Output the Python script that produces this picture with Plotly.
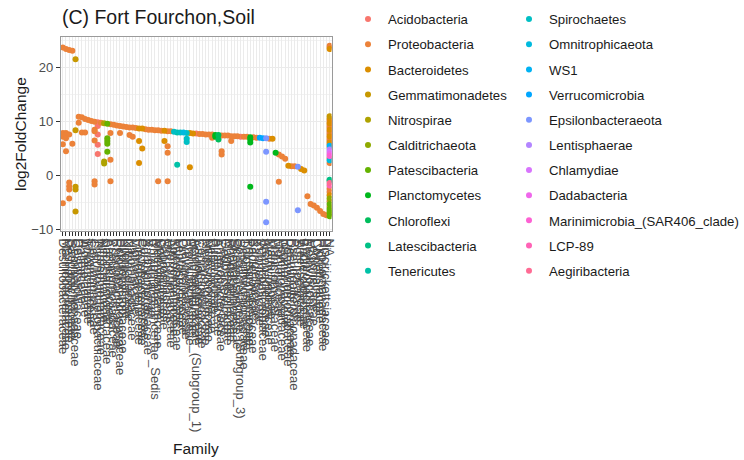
import math
import plotly.graph_objects as go

# Phyla in legend order
phyla = [
    "Acidobacteria", "Proteobacteria", "Bacteroidetes", "Gemmatimonadetes",
    "Nitrospirae", "Calditrichaeota", "Patescibacteria", "Planctomycetes",
    "Chloroflexi", "Latescibacteria", "Tenericutes", "Spirochaetes",
    "Omnitrophicaeota", "WS1", "Verrucomicrobia", "Epsilonbacteraeota",
    "Lentisphaerae", "Chlamydiae", "Dadabacteria",
    "Marinimicrobia_(SAR406_clade)", "LCP-89", "Aegiribacteria",
]

# Families along the x axis (ordered by their largest log2FoldChange)
families = [
    "Desulfobacteraceae", "Marinobacteraceae", "Desulfobulbaceae", "Sandaracinaceae", "Gemmatimonadaceae",
    "Desulfarculaceae", "Halieaceae", "Woeseiaceae", "Thiotrichaceae", "Chromatiaceae",
    "Cellvibrionaceae", "Thermoanaerobaculaceae", "Nitrosomonadaceae", "Nitrospiraceae", "Saccharimonadaceae",
    "Arenicellaceae", "Pseudomonadaceae", "Rhodobacteraceae", "Ectothiorhodospiraceae", "Hyphomicrobiaceae",
    "Kiloniellaceae", "Nitrincolaceae", "Halomonadaceae", "Vibrionaceae", "Flavobacteriaceae",
    "Cyclobacteriaceae", "Burkholderiaceae", "Xanthomonadaceae", "Rhizobiaceae", "Rhizobiales_Incertae_Sedis",
    "Methylophagaceae", "Colwelliaceae", "Saprospiraceae", "Moraxellaceae", "Alteromonadaceae",
    "Spirochaetaceae", "Mycoplasmataceae", "Leptospiraceae", "Omnitrophaceae", "Brevinemataceae",
    "Prolixibacteraceae", "Marinilabiliaceae", "Acidobacteriaceae_(Subgroup_1)", "Caulobacteraceae", "Comamonadaceae",
    "Methyloligellaceae", "Nitrosococcaceae", "Beijerinckiaceae", "Pirellulaceae", "Anaerolineaceae",
    "Enterobacteriaceae", "Geobacteraceae", "Magnetospiraceae", "Rhodospirillaceae", "Shewanellaceae",
    "Oceanospirillaceae", "Solibacteraceae_(Subgroup_3)", "Desulfuromonadaceae", "Thioalkalispiraceae", "Phycisphaeraceae",
    "Bacteriovoracaceae", "Kangiellaceae", "Rubritaleaceae", "Verrucomicrobiaceae", "Arcobacteraceae",
    "Methylomonaceae", "Marinifilaceae", "Planctomycetaceae", "Moritellaceae", "Psychromonadaceae",
    "Idiomarinaceae", "Porphyromonadaceae", "Desulfovibrionaceae", "Pseudoalteromonadaceae", "Sulfurovaceae",
    "Weeksellaceae", "Bacteroidaceae", "Erythrobacteraceae", "Methylococcaceae", "Legionellaceae",
    "Coxiellaceae", "Rickettsiaceae", "Hyphomonadaceae", "Piscirickettsiaceae", "NA",
]

# Phylum of each assigned family (all but the trailing "NA")
family_phylum = [
    "Proteobacteria", "Proteobacteria", "Proteobacteria", "Proteobacteria", "Gemmatimonadetes",
    "Proteobacteria", "Proteobacteria", "Proteobacteria", "Proteobacteria", "Proteobacteria",
    "Proteobacteria", "Acidobacteria", "Proteobacteria", "Nitrospirae", "Patescibacteria",
    "Proteobacteria", "Proteobacteria", "Proteobacteria", "Proteobacteria", "Proteobacteria",
    "Proteobacteria", "Proteobacteria", "Proteobacteria", "Proteobacteria", "Bacteroidetes",
    "Bacteroidetes", "Proteobacteria", "Proteobacteria", "Proteobacteria", "Proteobacteria",
    "Proteobacteria", "Proteobacteria", "Bacteroidetes", "Proteobacteria", "Proteobacteria",
    "Spirochaetes", "Tenericutes", "Spirochaetes", "Omnitrophicaeota", "Spirochaetes",
    "Bacteroidetes", "Bacteroidetes", "Acidobacteria", "Proteobacteria", "Proteobacteria",
    "Proteobacteria", "Proteobacteria", "Proteobacteria", "Planctomycetes", "Chloroflexi",
    "Proteobacteria", "Proteobacteria", "Proteobacteria", "Proteobacteria", "Proteobacteria",
    "Proteobacteria", "Acidobacteria", "Proteobacteria", "Proteobacteria", "Planctomycetes",
    "Proteobacteria", "Proteobacteria", "Verrucomicrobia", "Verrucomicrobia", "Epsilonbacteraeota",
    "Proteobacteria", "Bacteroidetes", "Planctomycetes", "Proteobacteria", "Proteobacteria",
    "Proteobacteria", "Bacteroidetes", "Proteobacteria", "Proteobacteria", "Epsilonbacteraeota",
    "Bacteroidetes", "Bacteroidetes", "Proteobacteria", "Proteobacteria", "Proteobacteria",
    "Proteobacteria", "Proteobacteria", "Proteobacteria", "Proteobacteria",
]

# log2FoldChange of the ASVs in each assigned family
family_lfc = [
    [23.8, 7.9, 7.2, 5.8, -5.2], [23.5, 7.9, 7.5, 6.9, 4.5], [23.3, 7.6, -1.3, -2.0, -2.6, -4.3],
    [23.2, 5.9], [21.6, 8.4, -2.1, -2.6, -6.7], [10.9, 9.8], [10.8, 8.0], [10.5, 8.0], [10.3], [10.1],
    [10.0, 8.5, 8.2, 6.5, -1.1, -1.7], [9.9, 9.2, 7.6, 5.7, 4.0], [9.8], [9.7, 2.6, 2.2],
    [9.6, 6.9, 6.4, 5.9, 4.4], [9.5, 7.9, 2.9, -1.1],
    [9.4], [9.3], [9.2, 7.9], [9.1], [9.0], [8.9, 7.5], [8.9, 7.2], [8.8],
    [8.7, 6.4, 2.3], [8.7, 5.0], [8.6], [8.5], [8.5], [8.4], [8.4, -1.1], [8.3], [8.3, 6.4],
    [8.2, 5.4, 4.2, -1.1], [8.2], [8.1], [8.0, 2.0], [8.0], [8.0], [7.9, 6.8, 6.2],
    [7.9, 1.5], [7.8], [7.8], [7.7], [7.7], [7.6], [7.6], [7.6, 7.0], [7.5, 7.2], [7.5, 6.7],
    [7.4, 4.5, 3.9], [7.4], [7.4], [7.3, 6.4], [7.3], [7.3], [7.2], [7.2], [7.2], [7.1, 6.7, 6.1, -2.1],
    [7.1], [7.0], [7.0], [6.9], [6.9, 4.4, -4.9, -8.7], [6.8], [6.8], [4.2], [3.9, -1.2], [3.5],
    [3.1], [1.8], [1.7], [1.7], [1.6, -6.5], [1.2], [0.9], [-3.9], [-5.3], [-5.6],
    [-6.0], [-6.6], [-7.2], [-7.4],
]

# ASVs without a family assignment
na_lfc = [
    24.1, 23.8, 23.5, 11.0, 10.6, 10.3, 10.0, 9.7, 9.4, 9.1, 8.8, 8.5, 8.2, 7.9, 7.6, 7.3,
    7.0, 6.7, 6.4, 6.1, 5.8, 5.5, 5.2, 4.8, 4.4, 4.0, 3.6, 3.2, 2.8, 2.3,
    -0.8, -1.0, -1.4, -1.9, -2.5, -3.1, -3.7, -4.3, -4.8, -5.3, -5.8, -6.2, -6.6, -7.0, -7.3, -7.6,
]
na_phylum = [
    "Proteobacteria", "Proteobacteria", "Bacteroidetes", "Gemmatimonadetes", "Bacteroidetes",
    "Proteobacteria", "Proteobacteria", "Bacteroidetes", "Proteobacteria", "Proteobacteria",
    "Proteobacteria", "Bacteroidetes", "Proteobacteria", "Proteobacteria", "Proteobacteria",
    "Bacteroidetes", "Proteobacteria", "Proteobacteria", "Proteobacteria", "Bacteroidetes",
    "Proteobacteria", "WS1", "Proteobacteria", "Lentisphaerae", "Chlamydiae",
    "Dadabacteria", "Marinimicrobia_(SAR406_clade)", "Proteobacteria", "Omnitrophicaeota", "Proteobacteria",
    "Latescibacteria", "Chloroflexi", "Aegiribacteria", "LCP-89", "Proteobacteria",
    "Proteobacteria", "Bacteroidetes", "Calditrichaeota", "Proteobacteria", "Patescibacteria",
    "Proteobacteria", "Patescibacteria", "Nitrospirae", "Patescibacteria", "Proteobacteria",
    "Patescibacteria",
]


def hue_palette(n, l=65, c=100, h_start=15, h_end=375):
    """Evenly spaced HCL hues (polar CIE-Luv), converted to sRGB hex."""
    xn, yn, zn = 95.047, 100.0, 108.883
    un = 4 * xn / (xn + 15 * yn + 3 * zn)
    vn = 9 * yn / (xn + 15 * yn + 3 * zn)
    out = []
    for i in range(n):
        h = math.radians(h_start + (h_end - h_start) * i / n)
        u, v = c * math.cos(h), c * math.sin(h)
        y = yn * ((l + 16) / 116) ** 3
        up = u / (13 * l) + un
        vp = v / (13 * l) + vn
        x = y * 9 * up / (4 * vp)
        z = y * (12 - 3 * up - 20 * vp) / (4 * vp)
        x, y, z = x / 100, y / 100, z / 100
        rgb = (
            3.240479 * x - 1.537150 * y - 0.498535 * z,
            -0.969256 * x + 1.875992 * y + 0.041556 * z,
            0.055648 * x - 0.204043 * y + 1.057311 * z,
        )
        chans = []
        for ch in rgb:
            ch = 12.92 * ch if ch <= 0.0031308 else 1.055 * ch ** (1 / 2.4) - 0.055
            chans.append(int(round(min(max(ch, 0.0), 1.0) * 255)))
        out.append("#%02X%02X%02X" % tuple(chans))
    return out


colors = dict(zip(phyla, hue_palette(len(phyla))))

# Collect points per phylum
pts = {p: ([], []) for p in phyla}
for fam, ph, vals in zip(families[:-1], family_phylum, family_lfc):
    for v in vals:
        pts[ph][0].append(fam)
        pts[ph][1].append(v)
for v, ph in zip(na_lfc, na_phylum):
    pts[ph][0].append(families[-1])
    pts[ph][1].append(v)

fig = go.Figure()
for k, ph in enumerate(phyla):
    xs, ys = pts[ph]
    fig.add_trace(go.Scatter(
        x=xs, y=ys, mode="markers", name=ph,
        marker=dict(color=colors[ph], size=6, line=dict(width=0)),
        legend="legend" if k < 11 else "legend2",
        legendgroup=ph,
    ))

all_y = [v for vals in family_lfc for v in vals] + na_lfc
lo, hi = min(all_y), max(all_y)
pad = 0.05 * (hi - lo)

# Page size and panel edges in pixels; the whole page is the paper area
W, H = 744, 460
L, R, T, B = 61, 332, 37, 231


def px(x):
    return x / W


def py(y):
    return 1 - y / H


FONT = "Liberation Sans, Arial, sans-serif"
axis_common = dict(
    showline=True, mirror=True, linecolor="#9A9A9A", linewidth=1,
    ticks="outside", ticklen=4, tickcolor="#333333", tickwidth=1,
    showgrid=True, gridcolor="#EBEBEB", gridwidth=1,
    zeroline=False, automargin=False,
    tickfont=dict(family=FONT, size=13, color="#4D4D4D"),
)

legend_common = dict(
    xanchor="left", yanchor="top",
    font=dict(family=FONT, size=13.2, color="#1A1A1A"),
    bgcolor="rgba(0,0,0,0)", tracegroupgap=5, traceorder="grouped",
)

fig.update_layout(
    width=W, height=H,
    margin=dict(l=0, r=0, t=0, b=0, pad=0),
    plot_bgcolor="white", paper_bgcolor="white",
    font=dict(family=FONT, color="#1A1A1A"),
    title=dict(
        text="(C) Fort Fourchon,Soil", x=px(62), xanchor="left", xref="paper",
        y=py(17), yanchor="middle", yref="paper",
        font=dict(family=FONT, size=19.5, color="#1A1A1A"),
    ),
    xaxis=dict(
        axis_common, domain=[px(L), px(R)],
        type="category", categoryorder="array", categoryarray=families,
        range=[-0.6, len(families) - 1 + 0.6], tickmode="linear", tick0=0, dtick=1,
        tickangle=90,
    ),
    yaxis=dict(
        axis_common, domain=[py(B), py(T)],
        range=[lo - pad, hi + pad], tickmode="array",
        tickvals=[-10, 0, 10, 20],
        minor=dict(tickmode="array", tickvals=[-5, 5, 15, 25], showgrid=True,
                   gridcolor="#F2F2F2", gridwidth=0.6, ticks=""),
    ),
    showlegend=True,
    legend=dict(legend_common, x=px(348), y=py(4)),
    legend2=dict(legend_common, x=px(510), y=py(4)),
    annotations=[
        dict(text="log2FoldChange", x=px(20), y=py((T + B) / 2), xref="paper", yref="paper",
             textangle=-90, showarrow=False, xanchor="center", yanchor="middle",
             font=dict(family=FONT, size=15.5, color="#1A1A1A")),
        dict(text="Family", x=px((L + R) / 2), y=py(448), xref="paper", yref="paper",
             showarrow=False, xanchor="center", yanchor="middle",
             font=dict(family=FONT, size=15.5, color="#1A1A1A")),
    ],
)

fig.write_html("out.html")
